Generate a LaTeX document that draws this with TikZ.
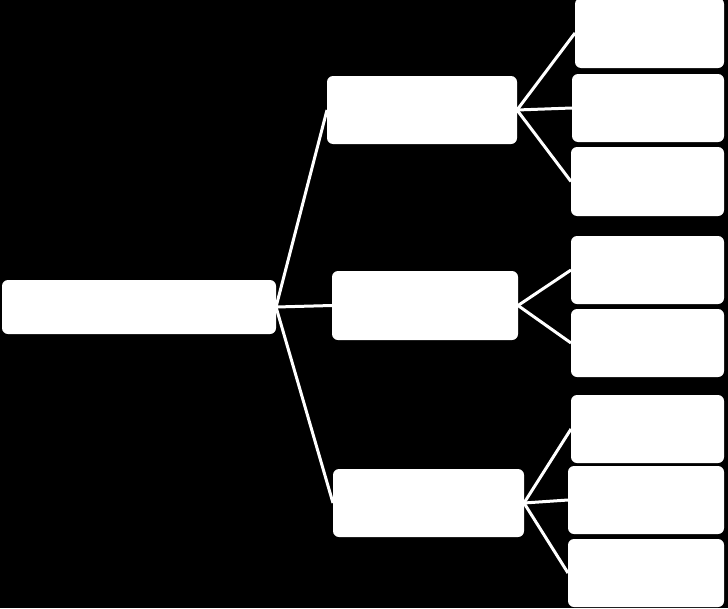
\documentclass[tikz,border=0pt]{standalone}
\begin{document}
\begin{tikzpicture}[x=1pt,y=-1pt,
  box/.style={fill=white,draw=none,rounded corners=6pt,inner sep=0pt,outer sep=0pt},
  link/.style={draw=white,line width=3pt}]
\fill[black] (0,0) rectangle (728,608);
\useasboundingbox (0,0) rectangle (728,608);
\node[box,minimum width=274pt,minimum height=54pt] (root) at (139,307) {};
\node[box,minimum width=190pt,minimum height=68pt] (m1) at (422,110) {};
\node[box,minimum width=186pt,minimum height=69pt] (m2) at (425,305.5) {};
\node[box,minimum width=191pt,minimum height=68pt] (m3) at (428.5,503) {};
\node[box,minimum width=149pt,minimum height=70pt] (l1) at (649.5,33) {};
\node[box,minimum width=152pt,minimum height=68pt] (l2) at (648,108) {};
\node[box,minimum width=153pt,minimum height=69pt] (l3) at (647.5,181.5) {};
\node[box,minimum width=153pt,minimum height=68pt] (l4) at (647.5,270) {};
\node[box,minimum width=153pt,minimum height=68pt] (l5) at (647.5,343) {};
\node[box,minimum width=153pt,minimum height=68pt] (l6) at (647.5,429) {};
\node[box,minimum width=156pt,minimum height=68pt] (l7) at (646,500) {};
\node[box,minimum width=156pt,minimum height=68pt] (l8) at (646,573) {};
\draw[link] (root.east) -- (m1.west);
\draw[link] (root.east) -- (m2.west);
\draw[link] (root.east) -- (m3.west);
\draw[link] (m1.east) -- (l1.west);
\draw[link] (m1.east) -- (l2.west);
\draw[link] (m1.east) -- (l3.west);
\draw[link] (m2.east) -- (l4.west);
\draw[link] (m2.east) -- (l5.west);
\draw[link] (m3.east) -- (l6.west);
\draw[link] (m3.east) -- (l7.west);
\draw[link] (m3.east) -- (l8.west);
\end{tikzpicture}
\end{document}
